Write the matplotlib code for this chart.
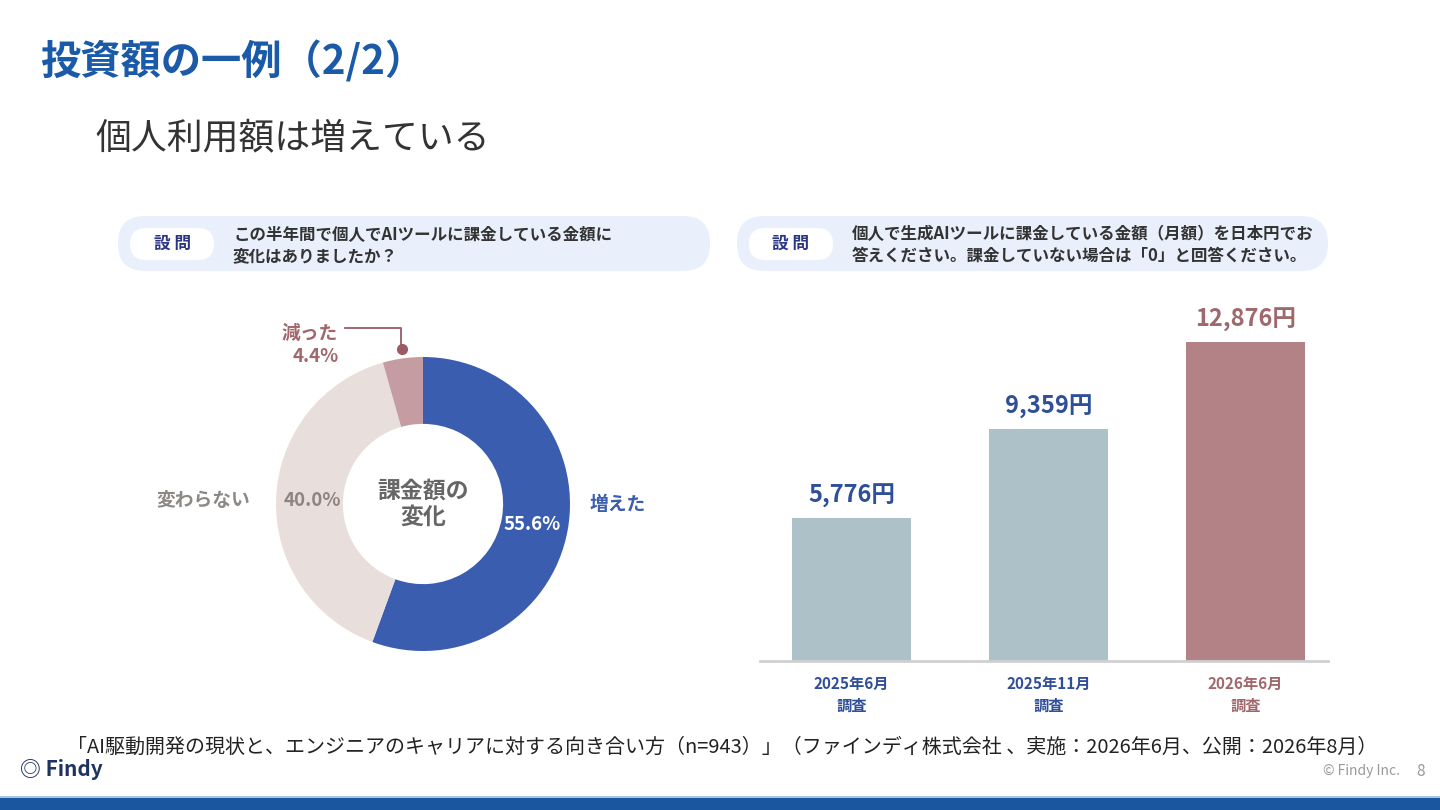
import matplotlib
matplotlib.use("Agg")
import matplotlib.pyplot as plt
from matplotlib.patches import FancyBboxPatch, Rectangle

plt.rcParams["font.family"] = ["Noto Sans CJK JP", "DejaVu Sans"]

# ── Data ──────────────────────────────────────────────────────
donut_labels = ["増えた", "変わらない", "減った"]
donut_values = [55.6, 40.0, 4.4]
donut_colors = ["#3a5db0", "#e8dfdc", "#c49ca1"]

bar_labels = ["2025年6月\n調査", "2025年11月\n調査", "2026年6月\n調査"]
bar_values = [5776, 9359, 12876]
bar_colors = ["#acc1c8", "#acc1c8", "#b38286"]
bar_text_colors = ["#2f4f98", "#2f4f98", "#a0686d"]

title = "投資額の一例（2/2）"
subtitle = "個人利用額は増えている"
q_left = "この半年間で個人でAIツールに課金している金額に\n変化はありましたか？"
q_right = "個人で生成AIツールに課金している金額（月額）を日本円でお\n答えください。課金していない場合は「0」と回答ください。"
source = ("「AI駆動開発の現状と、エンジニアのキャリアに対する向き合い方（n=943）」"
          "（ファインディ株式会社 、実施：2026年6月、公開：2026年8月）")

W, H = 1440, 810
fig = plt.figure(figsize=(14.4, 8.1), dpi=100)

# full-page pixel axes for slide decoration (kept on top of the chart axes)
ax0 = fig.add_axes([0, 0, 1, 1])
ax0.set_xlim(0, W)
ax0.set_ylim(H, 0)
ax0.axis("off")
ax0.set_zorder(5)

ax0.text(40, 62, title, fontsize=29, fontweight="bold", color="#1a5aa8",
         va="center", ha="left")
ax0.text(95, 138, subtitle, fontsize=25.8, color="#333333", va="center", ha="left")


def question_box(x0, x1, text):
    ax0.add_patch(FancyBboxPatch((x0, 216), x1 - x0, 55,
                                 boxstyle="round,pad=0,rounding_size=27",
                                 fc="#e9effb", ec="none"))
    ax0.add_patch(FancyBboxPatch((x0 + 12, 228), 84, 32,
                                 boxstyle="round,pad=0,rounding_size=16",
                                 fc="white", ec="none"))
    ax0.text(x0 + 54, 244, "設 問", fontsize=12, fontweight="bold",
             color="#2b3585", ha="center", va="center")
    ax0.text(x0 + 115, 245, text, fontsize=11.9, fontweight="bold",
             color="#333333", ha="left", va="center", linespacing=1.25)


question_box(118, 710, q_left)
question_box(737, 1328, q_right)

# ── Donut ────────────────────────────────────────────────────
cx, cy, r = 423, 504, 147
axd = fig.add_axes([(cx - r) / W, (H - cy - r) / H, 2 * r / W, 2 * r / H])
axd.pie(donut_values, colors=donut_colors, startangle=90, counterclock=False,
        radius=1, wedgeprops=dict(width=0.455, edgecolor="none"))
axd.set_xlim(-1, 1)
axd.set_ylim(-1, 1)
axd.set_aspect("equal")
axd.axis("off")
axd.text(0, 0, "課金額の\n変化", fontsize=16.5, fontweight="bold", color="#666666",
         ha="center", va="center", linespacing=1.2)

ax0.text(590, 505, donut_labels[0], fontsize=13.5, fontweight="bold",
         color="#3a5db0", ha="left", va="center")
ax0.text(532, 524, f"{donut_values[0]:.1f}%", fontsize=13.5, fontweight="bold",
         color="white", ha="center", va="center")
ax0.text(250, 500, donut_labels[1], fontsize=13.5, fontweight="bold",
         color="#8e8885", ha="right", va="center")
ax0.text(312, 500, f"{donut_values[1]:.1f}%", fontsize=13.5, fontweight="bold",
         color="#8e8582", ha="center", va="center")
ax0.text(338, 333, donut_labels[2], fontsize=13.5, fontweight="bold",
         color="#a0686d", ha="right", va="center")
ax0.text(339, 357, f"{donut_values[2]:.1f}%", fontsize=13.5, fontweight="bold",
         color="#a0686d", ha="right", va="center")
ax0.plot([345, 401, 401], [328, 328, 347], color="#9a5c62", lw=1.3)
ax0.plot([402], [349], "o", color="#9a5c62", ms=7)

# ── Bars ─────────────────────────────────────────────────────
bl, br, bb, bt = 760, 1328, 661, 300
axb = fig.add_axes([bl / W, (H - bb) / H, (br - bl) / W, (bb - bt) / H])
x = list(range(len(bar_values)))
axb.bar(x, bar_values, width=0.604, color=bar_colors)
axb.set_xlim(-0.464, 2.419)
axb.set_ylim(0, 14556)
for s in ["top", "right", "left"]:
    axb.spines[s].set_visible(False)
axb.spines["bottom"].set_color("#d0d0d0")
axb.spines["bottom"].set_linewidth(2)
axb.set_yticks([])
axb.set_xticks(x)
axb.set_xticklabels(bar_labels, fontsize=11, fontweight="bold", linespacing=1.45)
axb.tick_params(axis="x", length=0, pad=11)
for lab, c in zip(axb.get_xticklabels(), bar_text_colors):
    lab.set_color(c)
for xi, v, c in zip(x, bar_values, bar_text_colors):
    axb.annotate(f"{v:,}円", (xi, v), xytext=(0, 7), textcoords="offset points",
                 ha="center", va="bottom", fontsize=17, fontweight="bold", color=c)

# ── Footer ───────────────────────────────────────────────────
ax0.text(722, 747, source, fontsize=14.4, color="#222222", ha="center", va="center")
ax0.text(20, 770, "◎ Findy", fontsize=15, fontweight="bold", color="#1e3360",
         ha="left", va="center")
ax0.text(1400, 771, "© Findy Inc.", fontsize=10, color="#999999",
         ha="right", va="center")
ax0.text(1425, 771, "8", fontsize=11, color="#999999", ha="right", va="center")
ax0.add_patch(Rectangle((0, 796), W, 2, fc="#a9c4e6", ec="none"))
ax0.add_patch(Rectangle((0, 798), W, 12, fc="#1a56a0", ec="none"))

fig.savefig("out.png", dpi=100)
